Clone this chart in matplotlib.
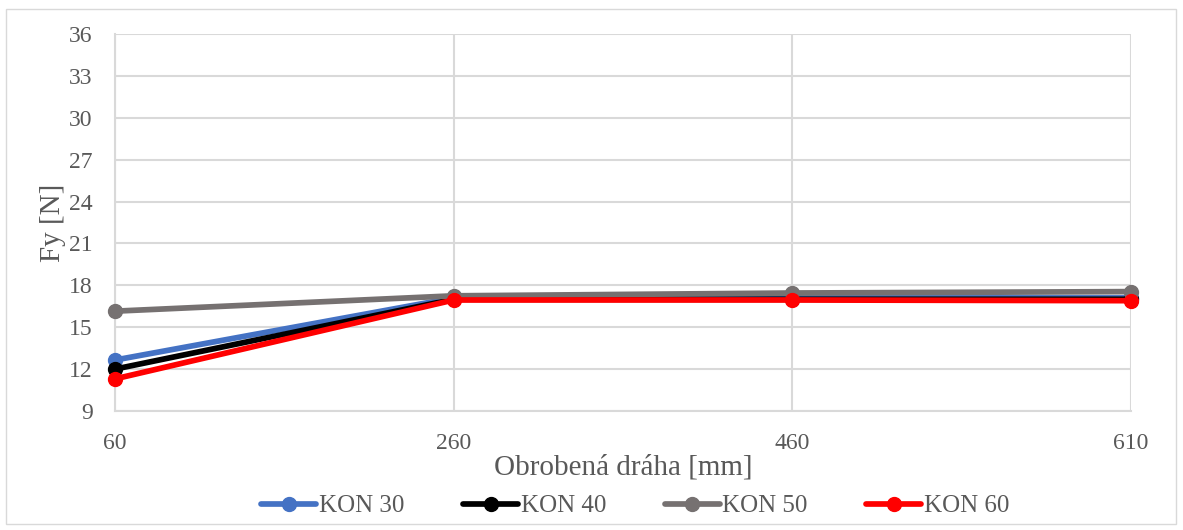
import matplotlib
matplotlib.use("Agg")
import matplotlib.pyplot as plt
from matplotlib.patches import Rectangle

categories = ["60", "260", "460", "610"]
series_names = ["KON 30", "KON 40", "KON 50", "KON 60"]
kon30 = [12.65, 17.1, 17.1, 17.1]
kon40 = [12.0, 17.0, 17.0, 17.0]
kon50 = [16.15, 17.25, 17.45, 17.55]
kon60 = [11.3, 16.95, 16.95, 16.9]
colors = ["#4472C4", "#000000", "#767171", "#FF0000"]
yticks = [9, 12, 15, 18, 21, 24, 27, 30, 33, 36]

plt.rcParams['font.family'] = ['Liberation Serif', 'DejaVu Serif']
txt = "#595959"
grid = "#D9D9D9"

fig = plt.figure(figsize=(11.83, 5.30), dpi=100)
fig.patches.append(Rectangle((6/1183, 6/530), 1170/1183, 515/530, transform=fig.transFigure,
                             fill=False, edgecolor=grid, linewidth=1.0))
ax = fig.add_axes([115/1183, 1 - 411/530, (1131 - 115)/1183, (411 - 34)/530])

x = list(range(len(categories)))
for vals, name, c in zip([kon30, kon40, kon50, kon60], series_names, colors):
    ax.plot(x, vals, color=c, linewidth=4.1, marker='o', markersize=10,
            solid_capstyle='round', label=name, zorder=3, clip_on=False)

ax.set_xlim(0, len(categories) - 1)
ax.set_ylim(9, 36)
ax.set_yticks(yticks)
ax.set_xticks(x)
ax.set_xticklabels(categories)
ax.grid(True, color=grid, linewidth=1.5, zorder=0)
ax.set_axisbelow(True)
for s in ["top", "right"]:
    ax.spines[s].set_visible(False)
for s in ["left", "bottom"]:
    ax.spines[s].set_color(grid)
    ax.spines[s].set_linewidth(1.5)
ax.tick_params(axis='both', length=0, labelsize=17, labelcolor=txt)
ax.tick_params(axis='y', pad=16)
ax.tick_params(axis='x', pad=16)
ax.set_xlabel("Obrobená dráha [mm]", fontsize=21, color=txt, labelpad=0)
ax.set_ylabel("Fy [N]", fontsize=21, color=txt, labelpad=2)

leg = fig.legend(loc='center', bbox_to_anchor=(0.537, 1 - 506/530), ncol=4, frameon=False,
                 fontsize=18, handlelength=2.2, handletextpad=0.1, columnspacing=2.35,
                 labelcolor=txt)

fig.savefig("out.png", dpi=100)
